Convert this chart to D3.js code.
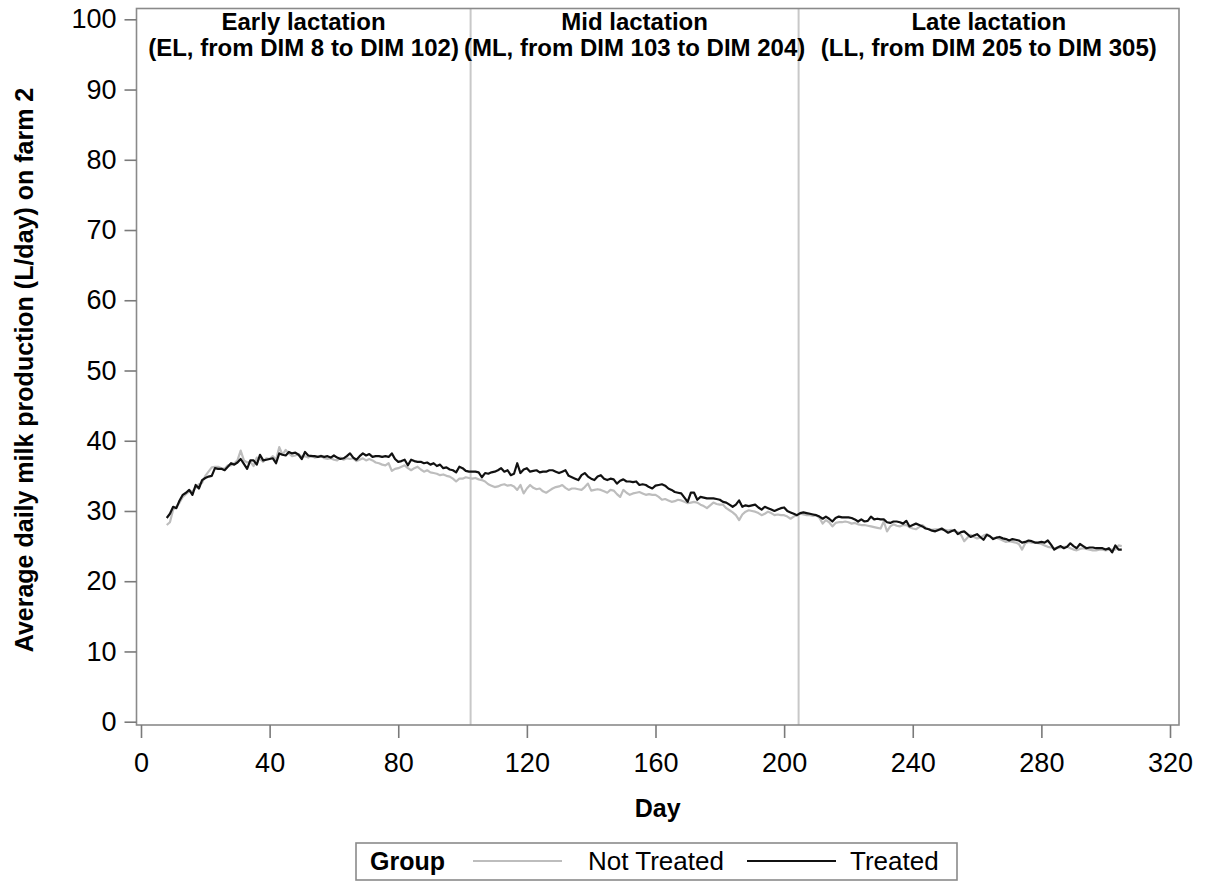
<!DOCTYPE html>
<html><head><meta charset="utf-8">
<script src="https://cdn.jsdelivr.net/npm/d3@7"></script>
<style>
body{margin:0;background:#fff;}
text{font-family:"Liberation Sans",Arial,sans-serif;}
</style></head>
<body><svg id="c" width="1210" height="882"></svg>
<script>
const startDay = 8;
const treated = [
29.0,29.6,30.6,30.4,31.5,32.3,32.6,33.0,32.3,33.7,
33.2,34.4,34.7,34.9,35.0,36.1,36.0,36.0,35.8,36.3,
36.8,36.6,36.9,37.4,36.7,36.0,37.2,37.2,36.6,38.0,
37.2,37.3,37.4,37.5,36.8,38.2,38.0,37.9,38.4,38.2,
38.3,38.0,37.4,38.4,37.9,37.8,37.8,37.7,37.8,37.7,
37.8,37.6,37.9,37.6,37.4,37.5,37.8,38.2,37.6,37.3,
37.8,38.2,37.9,38.1,37.7,37.8,37.8,37.7,37.8,37.7,
38.2,37.4,37.0,37.1,37.3,36.5,37.3,37.1,37.0,37.0,
36.8,36.9,36.6,36.8,36.4,36.6,36.1,36.2,35.9,35.8,
35.5,36.3,36.1,35.7,35.6,35.6,35.6,35.5,34.8,35.4,
35.3,35.5,35.6,35.8,36.1,35.6,35.8,35.1,35.3,36.8,
35.4,35.9,36.1,35.6,35.7,35.8,35.5,35.6,35.6,35.8,
35.8,35.6,35.4,35.6,35.8,35.0,34.8,34.6,34.4,35.1,
35.4,34.9,34.6,34.4,34.9,35.1,34.6,34.4,34.6,34.5,
33.9,34.3,34.5,34.2,34.2,34.1,34.2,33.7,33.8,33.7,
33.4,33.2,33.6,33.7,33.8,33.6,33.2,33.0,32.7,32.6,
32.5,31.9,31.3,32.6,32.6,31.6,32.0,31.9,31.8,31.8,
31.8,31.7,31.6,31.3,31.2,30.9,30.6,30.9,31.5,30.6,
30.8,30.7,30.8,30.9,30.5,30.2,30.6,30.4,30.2,30.0,
30.2,30.4,30.5,30.0,29.8,29.6,29.4,29.7,29.8,29.7,
29.6,29.5,29.4,29.2,28.9,29.2,28.9,28.5,29.0,29.2,
29.1,29.1,29.1,29.0,28.8,28.5,28.8,28.5,28.6,29.2,
28.8,28.9,28.8,28.8,28.4,28.3,28.5,28.5,28.4,28.2,
28.6,27.8,28.0,28.2,28.0,27.8,27.5,27.4,27.2,27.1,
27.3,27.5,27.2,26.9,27.1,27.3,26.7,27.0,27.1,26.7,
26.3,26.5,26.7,26.3,25.9,26.6,26.4,26.0,26.2,26.3,
26.1,26.0,25.8,26.0,25.9,25.8,25.5,25.6,25.8,25.7,
25.5,25.5,25.6,25.5,25.8,25.2,24.5,24.8,25.0,24.7,
24.9,25.4,25.0,24.7,25.3,25.0,24.7,24.8,24.8,24.7,
24.7,24.7,24.5,24.7,24.1,25.1,24.5,24.5];
const notTreated = [
28.0,28.4,30.2,30.6,31.2,32.0,32.4,32.8,32.8,33.3,
33.8,34.0,35.0,35.6,36.2,36.3,36.3,36.1,36.0,36.5,
36.5,36.8,37.2,38.6,37.2,36.9,37.0,36.4,37.6,37.4,
37.0,37.5,37.4,37.8,37.3,39.1,38.0,38.7,38.2,37.8,
37.9,38.1,37.7,37.8,37.6,37.9,37.6,37.7,37.9,37.5,
37.4,37.5,37.3,37.2,37.6,37.3,37.5,37.4,37.5,37.1,
37.3,37.5,37.2,37.4,37.2,36.9,36.8,36.6,36.5,36.8,
35.7,36.0,36.1,36.3,36.5,36.1,35.8,36.1,36.3,35.9,
35.6,35.8,35.5,35.4,35.3,35.1,35.2,35.0,34.9,34.6,
34.2,34.6,34.6,34.8,34.7,34.6,34.7,34.5,34.4,34.2,
33.8,33.6,33.4,33.5,33.7,33.8,33.6,33.7,33.5,33.0,
33.7,32.5,33.2,33.7,33.3,33.1,33.2,32.8,32.6,32.9,
33.2,33.4,33.5,33.7,33.3,33.0,33.2,33.2,33.1,33.0,
33.4,33.9,32.9,33.0,33.1,33.0,32.8,32.6,33.0,32.9,
32.4,32.0,33.0,32.6,32.3,32.5,32.6,32.7,32.5,32.3,
32.4,32.3,32.3,32.0,31.6,31.7,31.5,31.3,31.4,31.6,
31.5,31.3,31.1,31.2,31.3,31.2,30.9,30.7,30.4,30.8,
31.2,31.0,30.9,30.9,30.4,30.1,29.8,29.4,28.7,29.5,
29.9,30.1,30.0,29.9,29.7,29.4,29.6,29.9,29.7,29.4,
29.5,29.4,29.4,29.2,28.9,29.2,29.4,29.6,29.5,29.4,
29.4,29.3,29.4,29.0,28.2,28.7,28.4,27.8,28.3,28.4,
28.4,28.5,28.4,28.2,28.3,28.1,28.0,28.0,27.9,27.8,
27.7,27.6,27.5,28.5,27.1,27.8,28.1,27.9,27.8,28.0,
28.0,27.7,27.5,27.4,27.7,28.0,27.6,27.4,27.3,27.4,
27.4,27.3,27.3,27.2,27.3,27.1,27.0,26.6,25.7,26.2,
26.6,26.3,26.1,26.2,26.5,26.7,26.4,26.1,26.2,26.0,
25.8,25.6,25.7,25.6,25.5,25.3,24.5,25.4,25.6,25.5,
25.5,25.4,25.3,25.1,24.9,24.8,24.7,24.7,24.8,24.9,
24.9,24.7,24.5,24.4,24.6,24.7,24.6,24.5,24.4,24.4,
24.5,24.5,24.4,24.5,24.5,24.5,25.1,25.0];
const xTicks = [0,40,80,120,160,200,240,280,320];
const yTicks = [0,10,20,30,40,50,60,70,80,90,100];
const phaseBounds = [102.5, 204.5];
const phaseTitles = ["Early lactation","Mid lactation","Late lactation"];
const phaseSubtitles = ["(EL, from DIM 8 to DIM 102)","(ML, from DIM 103 to DIM 204)","(LL, from DIM 205 to DIM 305)"];
const groups = ["Not Treated","Treated"];
const groupColors = ["#bdbdbd","#111111"];

const svg = d3.select("#c");
const frame = {l:136.5, r:1179, t:8.5, b:725};
const x = d3.scaleLinear().domain([0,320]).range([141,1170]);
const y = d3.scaleLinear().domain([0,100]).range([721.7,19.3]);
const xMin = x.invert(frame.l), xMax = x.invert(frame.r);

// reference lines
svg.selectAll("line.ref").data(phaseBounds).enter().append("line")
  .attr("x1",d=>x(d)).attr("x2",d=>x(d)).attr("y1",frame.t).attr("y2",frame.b)
  .attr("stroke","#c8c8c8").attr("stroke-width",2);

// headers
const bounds = [xMin].concat(phaseBounds, [xMax]);
phaseTitles.forEach((t,i)=>{
  const cx = (x(bounds[i])+x(bounds[i+1]))/2;
  svg.append("text").attr("x",cx).attr("y",30).attr("text-anchor","middle")
    .attr("font-size",24).attr("font-weight","bold").attr("fill","#000").text(t);
  svg.append("text").attr("x",cx).attr("y",56).attr("text-anchor","middle")
    .attr("font-size",24).attr("font-weight","bold").attr("fill","#000").text(phaseSubtitles[i]);
});

// lines
const series = [notTreated, treated];
const line = d3.line().x((d,i)=>x(startDay+i)).y(d=>y(d));
series.forEach((s,k)=>{
  svg.append("path").datum(s).attr("d",line).attr("fill","none")
    .attr("stroke",groupColors[k]).attr("stroke-width",2.2).attr("stroke-linejoin","round");
});

// frame
svg.append("rect").attr("x",frame.l).attr("y",frame.t).attr("width",frame.r-frame.l).attr("height",frame.b-frame.t)
  .attr("fill","none").attr("stroke","#8a8a8a").attr("stroke-width",1.6);

// axes
const gx = svg.append("g").attr("transform",`translate(0,${frame.b})`)
  .call(d3.axisBottom(x).tickValues(xTicks).tickSize(13).tickPadding(15));
const gy = svg.append("g").attr("transform",`translate(${frame.l},0)`)
  .call(d3.axisLeft(y).tickValues(yTicks).tickSize(12).tickPadding(8));
[gx,gy].forEach(g=>{
  g.select(".domain").remove();
  g.selectAll(".tick line").attr("stroke","#7a7a7a").attr("stroke-width",1.6);
  g.selectAll(".tick text").attr("font-size",27).attr("fill","#000")
    .attr("font-family","Liberation Sans, Arial, sans-serif");
});

// axis titles
svg.append("text").attr("x",(frame.l+frame.r)/2).attr("y",817).attr("text-anchor","middle")
  .attr("font-size",25).attr("font-weight","bold").text("Day");
svg.append("text").attr("transform","translate(33,370) rotate(-90)").attr("text-anchor","middle")
  .attr("font-size",25).attr("font-weight","bold").text("Average daily milk production (L/day) on farm 2");

// legend
const lg = svg.append("g");
lg.append("rect").attr("x",356).attr("y",843).attr("width",601).attr("height",37)
  .attr("fill","#fff").attr("stroke","#8a8a8a").attr("stroke-width",1.6);
lg.append("text").attr("x",370).attr("y",870).attr("font-size",25).attr("font-weight","bold").text("Group");
const legX = [[473,562,588],[747,836,850]];
groups.forEach((g,i)=>{
  lg.append("line").attr("x1",legX[i][0]).attr("x2",legX[i][1]).attr("y1",861).attr("y2",861)
    .attr("stroke",groupColors[i]).attr("stroke-width",2.2);
  lg.append("text").attr("x",legX[i][2]).attr("y",870).attr("font-size",26).text(g);
});
</script></body></html>
